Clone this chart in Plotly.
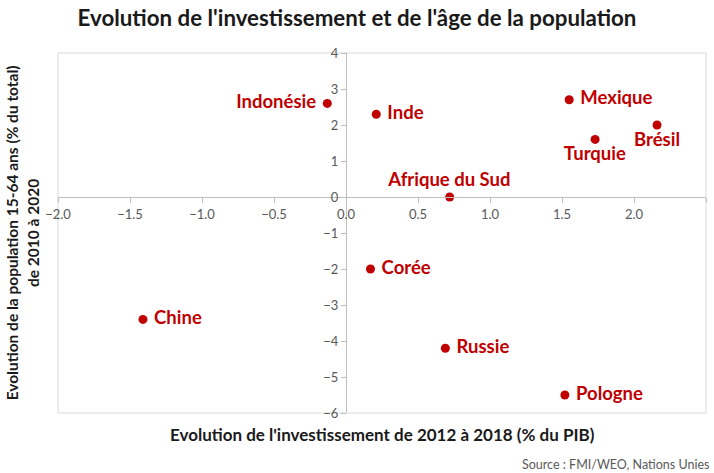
import plotly.graph_objects as go

countries = ["Indonésie", "Inde", "Mexique", "Brésil", "Turquie", "Afrique du Sud",
             "Corée", "Chine", "Russie", "Pologne"]
invest_change = [-0.13, 0.21, 1.55, 2.16, 1.73, 0.72, 0.17, -1.41, 0.69, 1.52]
pop_change = [2.6, 2.3, 2.7, 2.0, 1.6, 0.0, -2.0, -3.4, -4.2, -5.5]
x_ticks = [-2.0, -1.5, -1.0, -0.5, 0.0, 0.5, 1.0, 1.5, 2.0, 2.5]
y_ticks = [-6, -5, -4, -3, -2, -1, 0, 1, 2, 3, 4]

label_pos = {"Indonésie": "middle left", "Brésil": "bottom center",
             "Turquie": "bottom center", "Afrique du Sud": "top center"}
positions = [label_pos.get(c, "middle right") for c in countries]

RED = "#C00000"
GRAY = "#595959"
FONT = "Lato"

fig = go.Figure()
fig.add_trace(go.Scatter(
    x=invest_change, y=pop_change, mode="markers+text",
    text=[" " + c + " " for c in countries], textposition=positions,
    marker=dict(size=9, color=RED, line=dict(width=0)),
    textfont=dict(family=FONT, size=18.5, color=RED, weight="bold"),
    cliponaxis=False, hoverinfo="skip", showlegend=False,
))

fig.update_layout(
    width=714, height=473,
    margin=dict(l=58, r=8, t=53, b=60),
    paper_bgcolor="white", plot_bgcolor="white",
    title=dict(text="<b>Evolution de l'investissement et de l'âge de la population</b>",
               x=0.5, xanchor="center", y=0.962, yanchor="middle",
               font=dict(family=FONT, size=22.3, color="#1a1a1a")),
    xaxis=dict(range=[-2, 2.5], tickvals=x_ticks, tickformat=".1f",
               showgrid=False, zeroline=False, showline=True, linecolor="#BFBFBF",
               ticks="outside", ticklen=5, tickcolor="#BFBFBF",
               anchor="free", position=0.6, automargin=False,
               tickfont=dict(family=FONT, size=13, color=GRAY)),
    yaxis=dict(range=[-6, 4], tickvals=y_ticks,
               showgrid=False, zeroline=False, showline=True, linecolor="#BFBFBF",
               ticks="outside", ticklen=5, tickcolor="#BFBFBF",
               anchor="free", position=288 / 648, automargin=False,
               tickfont=dict(family=FONT, size=13, color=GRAY)),
    shapes=[dict(type="rect", xref="paper", yref="paper", x0=0, y0=0, x1=1, y1=1,
                 line=dict(color="#D9D9D9", width=1), layer="below")],
    annotations=[
        dict(text="<b>Evolution de l'investissement de 2012 à 2018 (% du PIB)</b>",
             xref="paper", yref="paper", x=0.5, y=-0.025, xanchor="center", yanchor="top",
             showarrow=False, font=dict(family=FONT, size=17, color="#1a1a1a")),
        dict(text="<b>Evolution de la population 15-64 ans (% du total)<br>de 2010 à 2020</b>",
             xref="paper", yref="paper", x=-0.055, y=0.5, xanchor="center", yanchor="middle",
             textangle=-90, showarrow=False,
             font=dict(family=FONT, size=15.5, color="#1a1a1a")),
        dict(text="Source : FMI/WEO, Nations Unies", xref="paper", yref="paper",
             x=(711 - 58) / 648, y=-0.144, xanchor="right", yanchor="middle", showarrow=False,
             font=dict(family=FONT, size=12.5, color=GRAY)),
    ],
)

fig.write_html("out.html", config={"displayModeBar": False},
               post_script="document.body.style.margin='0';document.body.style.overflow='hidden';")
